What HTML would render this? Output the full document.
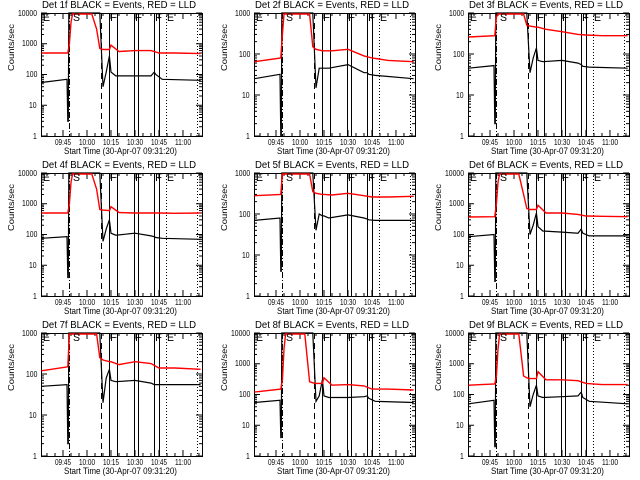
<!DOCTYPE html>
<html><head><meta charset="utf-8"><style>
html,body{margin:0;padding:0;background:#fff;}
#wrap{position:relative;width:640px;height:480px;overflow:hidden;font-family:"Liberation Sans",sans-serif;}
svg{display:block;position:absolute;left:0;top:0;}
.t{position:absolute;white-space:nowrap;line-height:1;color:#000;transform-origin:0 0;}
</style></head><body>
<div id="wrap">
<svg id="c" width="640" height="480" viewBox="0 0 640 480" xmlns="http://www.w3.org/2000/svg">
<rect x="0" y="0" width="640" height="480" fill="#fff"/>
</svg>
</div>
<script>
// time in minutes relative to 09:45
const detectorNames = ["1f","2f","3f","4f","5f","6f","7f","8f","9f"];
const yMaxes = [10000,1000,1000,10000,1000,10000,1000,10000,10000];
const yTickLabels4 = ["1","10","100","1000","10000"];
const xTickLabels = ["09:45","10:00","10:15","10:30","10:45","11:00"];
const xTickTimes = [0,15,30,45,60,75];
const redTimes = [-13.5,3,4,5,6,18,21,23,25,29,30,35,45,55,60,70,86];
const red1 = [500,500,1000,5000,20000,20000,3000,700,650,650,900,560,600,600,500,500,480];
const red2 = [65,80,300,20000,20000,20000,5000,150,130,120,120,120,130,90,80,70,65];
const red3 = [260,280,800,20000,20000,20000,1000,500,480,450,450,400,350,300,290,280,280];
const red4 = [500,500,1000,5000,20000,20000,3000,650,620,600,800,520,500,500,500,490,500];
const red5 = [280,300,1000,20000,20000,20000,1000,350,320,300,300,290,320,280,260,260,270];
const red6 = [370,380,1000,5000,20000,20000,2000,700,650,650,900,500,500,450,400,390,380];
const red7 = [120,150,1000,20000,20000,20000,3000,250,220,200,200,170,200,180,140,140,130];
const red8 = [120,150,300,3000,20000,20000,260,240,230,230,350,200,210,190,150,150,140];
const red9 = [200,220,400,3000,20000,20000,400,350,330,330,550,300,300,280,230,210,210];
const blackTimes = [-13.5,2.5,3,3.3,3.6,23,25,27,29,30,33,45,55,57,58,62,86];
const black1 = [55,70,3,3,20000,20000,40,120,400,120,90,90,90,120,100,70,65];
const black2 = [25,32,0.5,0.5,20000,20000,15,45,45,45,45,55,35,35,32,30,25];
const black3 = [45,52,2,2,20000,20000,35,80,140,70,65,70,60,55,50,48,45];
const black4 = [75,85,4,4,20000,20000,60,150,300,110,95,110,90,85,80,75,70];
const black5 = [70,80,4,4,20000,20000,40,100,90,90,80,95,80,75,72,70,70];
const black6 = [85,100,3,3,20000,20000,100,200,500,180,130,120,110,150,110,90,90];
const black7 = [50,55,2,2,20000,20000,20,80,130,70,65,70,60,55,55,55,55];
const black8 = [55,65,4,4,20000,20000,60,90,300,90,80,80,85,90,75,60,55];
const black9 = [50,65,2,2,20000,20000,40,100,200,90,80,85,90,120,80,60,50];
const eventTimes = [4,23.5,29,33.5,44.5,47,57,60,64.5,84];
const eventStyles = ["dashdot","dash","solid","solid","solid","solid","solid","solid","dot","dot"];
const eventLetters = ["E","S","F","F","F","E"];
const eventLetterTimes = [-12.5,6,29.5,45,57.5,65];

const reds=[red1,red2,red3,red4,red5,red6,red7,red8,red9];
const blacks=[black1,black2,black3,black4,black5,black6,black7,black8,black9];
const svg=document.getElementById('c');
const wrap=document.getElementById('wrap');
const NS="http://www.w3.org/2000/svg";
function mk(tag,attrs,parent){const e=document.createElementNS(NS,tag);for(const k in attrs)e.setAttribute(k,attrs[k]);parent.appendChild(e);return e;}
function txt(s,x,y,w,fs,rot){
  const d=document.createElement('div');
  d.className='t';
  d.style.fontSize=fs+'px';
  d.textContent=s;
  wrap.appendChild(d);
  const nat=d.getBoundingClientRect().width||w;
  const sc=w/nat;
  d.style.left=x+'px';d.style.top=y+'px';
  d.style.transform=rot?`rotate(-90deg) scaleX(${sc.toFixed(3)})`:`scaleX(${sc.toFixed(3)})`;
  return d;
}
const X0=41,X1=202,Y0=13,Y1=136;
const T0=-13.75,T1=86.9;
function xs(t){return X0+(t-T0)/(T1-T0)*(X1-X0);}
for(let p=0;p<9;p++){
  const col=p%3,row=Math.floor(p/3);
  const ox=[0,213,427][col],oy=row*160;
  const g=mk('g',{transform:`translate(${ox},${oy})`},svg);
  
  
  const ymax=yMaxes[p];const dec=Math.log10(ymax);
  const ys=v=>{const c=Math.min(Math.max(v,1),ymax);return Y1-Math.log10(c)/dec*(Y1-Y0);};
  const t=txt('Det '+detectorNames[p]+' BLACK = Events, RED = LLD',ox+42,oy+1,154,10,false);
  
  
  const yl=txt('Counts/sec',ox+8,oy+71,47,8,true);
  
  
  const xl=txt('Start Time (30-Apr-07 09:31:20)',ox+64,oy+147,113,9,false);
  
  
  const box=mk('rect',{x:X0+0.5,y:Y0+0.5,width:X1-X0,height:Y1-Y0,fill:'none',stroke:'#000','stroke-width':1},g);
  
  
  for(let d=0;d<=dec;d++){
    const y=ys(Math.pow(10,d));
    const s=yTickLabels4[d];
    const w=s.length*3.8;
    const lb=txt(s,ox+37-w,oy+y-3.5,w,8,false);
    
    
    mk('line',{x1:X0,x2:X0+6,y1:y,y2:y,stroke:'#000','stroke-width':1},g);
    mk('line',{x1:X1,x2:X1-6,y1:y,y2:y,stroke:'#000','stroke-width':1},g);
    if(d<dec)for(let m=2;m<10;m++){const yy=ys(m*Math.pow(10,d));
      mk('line',{x1:X0,x2:X0+3,y1:yy,y2:yy,stroke:'#000','stroke-width':1},g);
      mk('line',{x1:X1,x2:X1-3,y1:yy,y2:yy,stroke:'#000','stroke-width':1},g);}
  }
  xTickTimes.forEach((tt,i)=>{const x=xs(tt);
    const lb=txt(xTickLabels[i],ox+x-8,oy+139,16,8,false);
    
    
    mk('line',{x1:x,x2:x,y1:Y1,y2:Y1-6,stroke:'#000'},g);
    mk('line',{x1:x,x2:x,y1:Y0,y2:Y0+6,stroke:'#000'},g);});
  for(let tt=-10;tt<=85;tt+=5){if(tt%15===0)continue;const x=xs(tt);
    mk('line',{x1:x,x2:x,y1:Y1,y2:Y1-3,stroke:'#000'},g);
    mk('line',{x1:x,x2:x,y1:Y0,y2:Y0+3,stroke:'#000'},g);}
  eventTimes.forEach((tt,i)=>{const x=Math.round(xs(tt))+0.5;const st=eventStyles[i];
    const da=st==='dash'?'6,4':st==='dot'?'1,2':st==='dashdot'?'6,2,1,2':'none';
    const l=mk('line',{x1:x,x2:x,y1:Y0,y2:Y1,stroke:'#000','stroke-width':1,'stroke-dasharray':da},g);
    
    });
  eventLetters.forEach((s,i)=>{
    const lt=txt(s,ox+xs(eventLetterTimes[i]),oy+Y0,7,11,false);
    
    });
  const bp=mk('polyline',{points:blackTimes.map((tt,i)=>xs(tt).toFixed(1)+','+ys(blacks[p][i]).toFixed(1)).join(' '),fill:'none',stroke:'#000','stroke-width':1.2},g);
  
  
  const rp=mk('polyline',{points:redTimes.map((tt,i)=>xs(tt).toFixed(1)+','+(ys(reds[p][i])+(reds[p][i]>=ymax?1:0)).toFixed(1)).join(' '),fill:'none',stroke:'#f00','stroke-width':1.4},g);
  
  
}
</script>
</body></html>
